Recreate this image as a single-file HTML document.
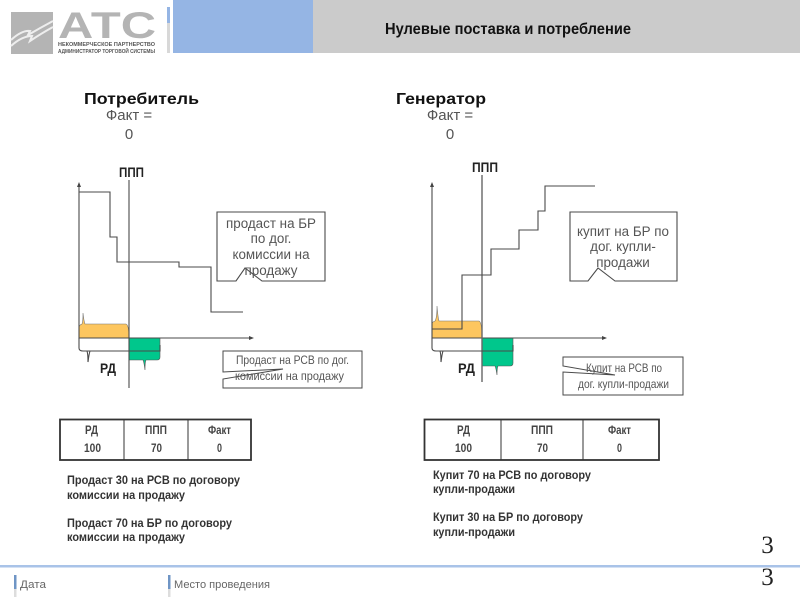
<!DOCTYPE html>
<html><head><meta charset="utf-8"><style>
html,body{margin:0;padding:0;background:#fff}
svg{display:block}
text{font-family:"Liberation Sans",sans-serif}
</style></head><body>
<svg width="800" height="600" viewBox="0 0 800 600" xmlns="http://www.w3.org/2000/svg">
<rect x="173" y="0" width="140" height="53" fill="#95b5e4"/>
<rect x="313" y="0" width="487" height="53" fill="#cbcbcb"/>
<rect x="167" y="7" width="3" height="16" fill="#95b5e4"/>
<rect x="167" y="23" width="3" height="30" fill="#d8d8d8"/>
<rect x="11" y="12" width="42" height="42" fill="#b4b4b4"/>
<path d="M11 40 Q22 30 30 31 L28 35 Q40 28 53 21 M11 46 Q22 36 32 36 L30 41 Q42 33 53 27" fill="none" stroke="#eee" stroke-width="2"/>
<text x="58" y="38" font-size="37" font-weight="bold" fill="#b4b4b4" textLength="98" lengthAdjust="spacingAndGlyphs">АТС</text>
<text x="58" y="46" font-size="5" font-weight="bold" fill="#555" textLength="97" lengthAdjust="spacingAndGlyphs">НЕКОММЕРЧЕСКОЕ ПАРТНЕРСТВО</text>
<text x="58" y="53" font-size="5" font-weight="bold" fill="#555" textLength="97" lengthAdjust="spacingAndGlyphs">АДМИНИСТРАТОР ТОРГОВОЙ СИСТЕМЫ</text>
<text x="385" y="34" font-size="16" font-weight="bold" fill="#111" textLength="246" lengthAdjust="spacingAndGlyphs">Нулевые поставка и потребление</text>

<text x="84" y="104" font-size="16" font-weight="bold" fill="#111" textLength="115" lengthAdjust="spacingAndGlyphs">Потребитель</text>
<text x="129" y="120" font-size="15" fill="#555" text-anchor="middle">Факт =</text>
<text x="129" y="139" font-size="15" fill="#555" text-anchor="middle">0</text>
<text x="396" y="104" font-size="16" font-weight="bold" fill="#111" textLength="90" lengthAdjust="spacingAndGlyphs">Генератор</text>
<text x="450" y="120" font-size="15" fill="#555" text-anchor="middle">Факт =</text>
<text x="450" y="139" font-size="15" fill="#555" text-anchor="middle">0</text>

<!-- Left chart -->
<path d="M79 338V328Q79 325 82 324Q83 322 83 313Q84 322 85 324H126Q129 325 129 338Z" fill="#fdc65f" stroke="#777" stroke-width=".6"/>
<path d="M129 338H160V357Q160 360 157 360H146Q145 362 145 370Q144 362 143 360H129Z" fill="#00c78c" stroke="#555" stroke-width=".6"/>
<g fill="none" stroke="#4a4a4a" stroke-width="1.1">
<path d="M79 184V338H252"/>
<path d="M129 180V388"/>
<path d="M79 192H110V237H117V262H179V267H211V312H243"/>
<path d="M79 338V348Q79 351 83 351H160V345M87 351Q88 354 88 362Q89 354 90 351"/>
<path d="M217 212H325V281H262L245 268L236 281H217Z"/>
<path d="M223 351H362V388H223V379L283 369L223 372Z" stroke-width="1"/>
</g>
<path d="M79 182l-2 5h4zM254 338l-5-2v4z" fill="#444"/>
<text x="119" y="177" font-size="14" font-weight="bold" fill="#222" textLength="25" lengthAdjust="spacingAndGlyphs">ППП</text>
<text x="100" y="373" font-size="14" font-weight="bold" fill="#222" textLength="16" lengthAdjust="spacingAndGlyphs">РД</text>
<g font-size="13.4" fill="#555" text-anchor="middle">
<text x="271" y="228">продаст на БР</text>
<text x="271" y="243">по дог.</text>
<text x="271" y="259">комиссии на</text>
<text x="271" y="275">продажу</text>
</g>
<text x="236" y="364" font-size="12" fill="#555" textLength="113" lengthAdjust="spacingAndGlyphs">Продаст  на РСВ по дог.</text>
<text x="235" y="380" font-size="12" fill="#555" textLength="109" lengthAdjust="spacingAndGlyphs">комиссии на продажу</text>

<!-- Right chart -->
<path d="M432 338V324Q432 322 435 321Q437 318 437 306Q438 318 439 321H479Q482 322 482 338Z" fill="#fdc65f" stroke="#777" stroke-width=".6"/>
<path d="M482 338H513V363Q513 366 510 366H498Q497 368 497 375Q496 368 495 366H482Z" fill="#00c78c" stroke="#555" stroke-width=".6"/>
<g fill="none" stroke="#4a4a4a" stroke-width="1.1">
<path d="M432 184V338H605"/>
<path d="M482 175V382" stroke-width="1.4" stroke="#666"/>
<path d="M432 329H462V275H491V249H519V230H538V211H545V186H595"/>
<path d="M432 338V348Q432 351 436 351H513V345M440 351Q441 354 441 362Q442 354 443 351"/>
<path d="M570 212H677V281H615L598 268L588 281H570Z"/>
<path d="M563 357H683V395H563V372L615 375L563 366Z" stroke-width="1"/>
</g>
<path d="M432 182l-2 5h4zM607 338l-5-2v4z" fill="#444"/>
<text x="472" y="172" font-size="14" font-weight="bold" fill="#222" textLength="26" lengthAdjust="spacingAndGlyphs">ППП</text>
<text x="458" y="373" font-size="14" font-weight="bold" fill="#222" textLength="17" lengthAdjust="spacingAndGlyphs">РД</text>
<g font-size="13.4" fill="#555" text-anchor="middle">
<text x="623" y="236">купит на БР по</text>
<text x="623" y="251">дог. купли-</text>
<text x="623" y="267">продажи</text>
</g>
<text x="586" y="372" font-size="12" fill="#555" textLength="76" lengthAdjust="spacingAndGlyphs">Купит на РСВ по</text>
<text x="578" y="388" font-size="12" fill="#555" textLength="91" lengthAdjust="spacingAndGlyphs">дог. купли-продажи</text>

<!-- Tables -->
<g fill="none" stroke="#333">
<rect x="60" y="419.5" width="191" height="40.5" stroke-width="1.8"/>
<path d="M124 420V460M188 420V460" stroke-width="1"/>
<rect x="424.5" y="419.5" width="234.5" height="40.5" stroke-width="1.8"/>
<path d="M501 420V460M583 420V460" stroke-width="1"/>
</g>
<g font-size="12" font-weight="bold" fill="#444">
<text x="85" y="434" textLength="13" lengthAdjust="spacingAndGlyphs">РД</text><text x="84" y="452" textLength="17" lengthAdjust="spacingAndGlyphs">100</text>
<text x="145" y="434" textLength="22" lengthAdjust="spacingAndGlyphs">ППП</text><text x="151" y="452" textLength="11" lengthAdjust="spacingAndGlyphs">70</text>
<text x="208" y="434" textLength="23" lengthAdjust="spacingAndGlyphs">Факт</text><text x="217" y="452" textLength="5" lengthAdjust="spacingAndGlyphs">0</text>
<text x="457" y="434" textLength="13" lengthAdjust="spacingAndGlyphs">РД</text><text x="455" y="452" textLength="17" lengthAdjust="spacingAndGlyphs">100</text>
<text x="531" y="434" textLength="22" lengthAdjust="spacingAndGlyphs">ППП</text><text x="537" y="452" textLength="11" lengthAdjust="spacingAndGlyphs">70</text>
<text x="608" y="434" textLength="23" lengthAdjust="spacingAndGlyphs">Факт</text><text x="617" y="452" textLength="5" lengthAdjust="spacingAndGlyphs">0</text>
</g>
<g font-size="12" font-weight="bold" fill="#333">
<text x="67" y="484" textLength="173" lengthAdjust="spacingAndGlyphs">Продаст 30 на РСВ по договору</text>
<text x="67" y="499" textLength="118" lengthAdjust="spacingAndGlyphs">комиссии на продажу</text>
<text x="67" y="527" textLength="165" lengthAdjust="spacingAndGlyphs">Продаст 70 на БР по договору</text>
<text x="67" y="541" textLength="118" lengthAdjust="spacingAndGlyphs">комиссии на продажу</text>
<text x="433" y="479" textLength="158" lengthAdjust="spacingAndGlyphs">Купит 70 на РСВ по договору</text>
<text x="433" y="493" textLength="82" lengthAdjust="spacingAndGlyphs">купли-продажи</text>
<text x="433" y="521" textLength="150" lengthAdjust="spacingAndGlyphs">Купит 30 на БР по договору</text>
<text x="433" y="536" textLength="82" lengthAdjust="spacingAndGlyphs">купли-продажи</text>
</g>

<!-- Footer -->
<rect x="0" y="565" width="800" height="2.5" fill="#a9c3e8"/>
<rect x="14" y="575" width="2.5" height="14" fill="#6f95c5"/>
<rect x="14" y="589" width="2.5" height="8" fill="#ddd"/>
<rect x="168" y="575" width="2.5" height="14" fill="#6f95c5"/>
<rect x="168" y="589" width="2.5" height="8" fill="#ddd"/>
<text x="20" y="588" font-size="11" fill="#666" textLength="26" lengthAdjust="spacingAndGlyphs">Дата</text>
<text x="174" y="588" font-size="11" fill="#666" textLength="96" lengthAdjust="spacingAndGlyphs">Место проведения</text>
<text x="767.5" y="553" font-size="25" fill="#222" text-anchor="middle" style="font-family:'Liberation Serif',serif">3</text>
<text x="767.5" y="585" font-size="25" fill="#222" text-anchor="middle" style="font-family:'Liberation Serif',serif">3</text>
</svg>
</body></html>
